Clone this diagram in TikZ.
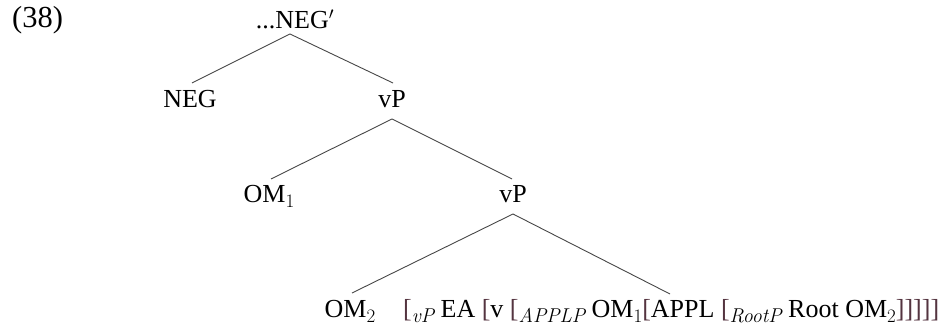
\documentclass[tikz,border=0pt]{standalone}
\usepackage{fontspec}
\setmainfont{Liberation Serif}
\newfontfamily\lmr{Latin Modern Roman}
\definecolor{brk}{RGB}{84,52,64}
\newcommand{\lb}{\textcolor{brk}{[}}
\newcommand{\rb}{\textcolor{brk}{]}}
% lowered label text: italic category labels and index digits
\newcommand{\lab}[1]{\raisebox{-4.5pt}{\fontsize{20}{20}\selectfont\lmr\itshape #1}}
\newcommand{\idx}[1]{\raisebox{-4.5pt}{\fontsize{19}{19}\selectfont\lmr #1}}
\tikzset{
  lbl/.style={inner sep=0pt, anchor=base, font=\fontsize{26}{31}\selectfont},
  branch/.style={draw=black!72, line width=0.9pt}
}
\begin{document}
\begin{tikzpicture}[x=1pt, y=1pt]
\useasboundingbox (0,0) rectangle (945,328);
% example number
\node[lbl, anchor=base west, font=\fontsize{30.5}{36}\selectfont] (ex) at (12,300) {(38)};
% tree labels
\node[lbl] (root) at (295,299) {...NEG$'$};
\node[lbl] (neg) at (190,220) {NEG};
\node[lbl] (vp1) at (392,220) {vP};
\node[lbl] (om1) at (269,125) {OM\idx{1}};
\node[lbl] (vp2) at (513,125) {vP};
\node[lbl] (om2) at (350,10) {OM\idx{2}};
\node[lbl, anchor=base west] (br) at (403,10)
  {\lb\lab{vP} EA \lb v \lb\lab{APPLP} OM\idx{1}\lb APPL \lb\lab{RootP} Root OM\idx{2}\rb\rb\rb\rb\rb};
\coordinate (rleaf) at (670,34);
% branches
\draw[branch] ([shift={(-5,-5)}]root.base) -- ([shift={(2,25)}]neg.base);
\draw[branch] ([shift={(-5,-5)}]root.base) -- ([shift={(1,25)}]vp1.base);
\draw[branch] ([shift={(0,-11)}]vp1.base) -- ([shift={(2,24)}]om1.base);
\draw[branch] ([shift={(0,-11)}]vp1.base) -- ([shift={(-1,24)}]vp2.base);
\draw[branch] ([shift={(0,-11)}]vp2.base) -- ([shift={(2,25)}]om2.base);
\draw[branch] ([shift={(0,-11)}]vp2.base) -- (rleaf);
\end{tikzpicture}
\end{document}
